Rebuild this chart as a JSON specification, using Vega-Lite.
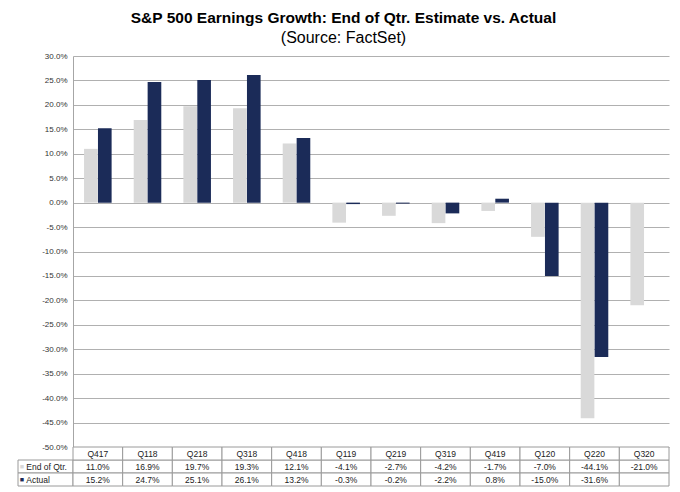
{
  "$schema": "https://vega.github.io/schema/vega-lite/v6.json",
  "padding": {"left": 17, "top": 10, "right": 12, "bottom": 4},
  "background": "white",
  "config": {
    "view": {"stroke": null},
    "font": "Liberation Sans",
    "locale": {"number": {"decimal": ".", "thousands": ",", "grouping": [3], "currency": ["$", ""], "minus": "-"}}
  },
  "title": {
    "text": "S&P 500 Earnings Growth: End of Qtr. Estimate vs. Actual",
    "subtitle": "(Source: FactSet)",
    "anchor": "middle",
    "font": "Liberation Sans",
    "fontSize": 15.5,
    "fontWeight": "bold",
    "color": "#000000",
    "subtitleFont": "Liberation Sans",
    "subtitleFontSize": 16,
    "subtitleColor": "#000000",
    "subtitlePadding": 4,
    "offset": 6
  },
  "datasets": {
    "growth": [
      {"q": "Q417", "series": "End of Qtr.", "value": 0.110},
      {"q": "Q417", "series": "Actual", "value": 0.152},
      {"q": "Q118", "series": "End of Qtr.", "value": 0.169},
      {"q": "Q118", "series": "Actual", "value": 0.247},
      {"q": "Q218", "series": "End of Qtr.", "value": 0.197},
      {"q": "Q218", "series": "Actual", "value": 0.251},
      {"q": "Q318", "series": "End of Qtr.", "value": 0.193},
      {"q": "Q318", "series": "Actual", "value": 0.261},
      {"q": "Q418", "series": "End of Qtr.", "value": 0.121},
      {"q": "Q418", "series": "Actual", "value": 0.132},
      {"q": "Q119", "series": "End of Qtr.", "value": -0.041},
      {"q": "Q119", "series": "Actual", "value": -0.003},
      {"q": "Q219", "series": "End of Qtr.", "value": -0.027},
      {"q": "Q219", "series": "Actual", "value": -0.002},
      {"q": "Q319", "series": "End of Qtr.", "value": -0.042},
      {"q": "Q319", "series": "Actual", "value": -0.022},
      {"q": "Q419", "series": "End of Qtr.", "value": -0.017},
      {"q": "Q419", "series": "Actual", "value": 0.008},
      {"q": "Q120", "series": "End of Qtr.", "value": -0.070},
      {"q": "Q120", "series": "Actual", "value": -0.150},
      {"q": "Q220", "series": "End of Qtr.", "value": -0.441},
      {"q": "Q220", "series": "Actual", "value": -0.316},
      {"q": "Q320", "series": "End of Qtr.", "value": -0.210},
      {"q": "Q320", "series": "Actual", "value": null}
    ]
  },
  "columns": 2,
  "spacing": 0,
  "bounds": "flush",
  "resolve": {"scale": {"x": "independent", "y": "independent", "color": "independent"}},
  "concat": [
    {
      "width": 55,
      "height": 391,
      "data": {"values": [{}]},
      "mark": {"type": "text", "text": ""}
    },
    {
      "width": 596,
      "height": 391,
      "data": {"name": "growth"},
      "transform": [{"filter": "isValid(datum.value)"}],
      "mark": {"type": "bar"},
      "encoding": {
        "x": {
          "field": "q", "type": "nominal",
          "sort": ["Q417","Q118","Q218","Q318","Q418","Q119","Q219","Q319","Q419","Q120","Q220","Q320"],
          "scale": {"paddingInner": 0.445, "paddingOuter": 0.2225},
          "axis": null
        },
        "xOffset": {
          "field": "series", "type": "nominal",
          "sort": ["End of Qtr.", "Actual"],
          "scale": {"paddingInner": 0.02}
        },
        "y": {
          "field": "value", "type": "quantitative",
          "scale": {"domain": [-0.5, 0.3], "nice": false},
          "axis": {
            "values": [-0.5,-0.45,-0.4,-0.35,-0.3,-0.25,-0.2,-0.15,-0.1,-0.05,0,0.05,0.1,0.15,0.2,0.25,0.3],
            "format": ".1%",
            "title": null,
            "ticks": false,
            "labelPadding": 6,
            "labelFontSize": 8,
            "labelColor": "#333333",
            "labelFont": "Liberation Sans",
            "domainColor": "#a6a6a6",
            "gridColor": "#b0b0b0",
            "gridWidth": 1
          }
        },
        "color": {
          "field": "series", "type": "nominal",
          "scale": {"domain": ["End of Qtr.", "Actual"], "range": ["#d9d9d9", "#1b2b58"]},
          "legend": null
        }
      }
    },
    {
      "width": 55,
      "height": 39,
      "data": {"name": "growth"},
      "transform": [{"filter": "datum.q == 'Q417'"}],
      "encoding": {
        "y": {
          "field": "series", "type": "nominal",
          "scale": {"domain": ["hdr", "End of Qtr.", "Actual"], "paddingInner": 0, "paddingOuter": 0},
          "axis": null
        }
      },
      "layer": [
        {
          "mark": {"type": "rect", "fill": "white", "stroke": "#9a9a9a", "strokeWidth": 1},
          "encoding": {
            "x": {"datum": 0, "type": "quantitative", "scale": {"domain": [0, 1]}, "axis": null},
            "x2": {"datum": 1}
          }
        },
        {
          "mark": {"type": "text", "text": "■", "fontSize": 7, "align": "left", "baseline": "middle"},
          "encoding": {
            "x": {"datum": 0.03, "type": "quantitative"},
            "color": {
              "field": "series", "type": "nominal",
              "scale": {"domain": ["End of Qtr.", "Actual"], "range": ["#d9d9d9", "#1b2b58"]},
              "legend": null
            }
          }
        },
        {
          "mark": {"type": "text", "fontSize": 8.5, "align": "left", "baseline": "middle", "color": "#222222", "font": "Liberation Sans"},
          "encoding": {
            "x": {"datum": 0.15, "type": "quantitative"},
            "text": {"field": "series"}
          }
        }
      ]
    },
    {
      "width": 596,
      "height": 39,
      "data": {"name": "growth"},
      "encoding": {
        "x": {
          "field": "q", "type": "nominal",
          "sort": ["Q417","Q118","Q218","Q318","Q418","Q119","Q219","Q319","Q419","Q120","Q220","Q320"],
          "scale": {"paddingInner": 0, "paddingOuter": 0},
          "axis": null
        }
      },
      "layer": [
        {
          "mark": {"type": "rect", "fill": "white", "stroke": "#9a9a9a", "strokeWidth": 1},
          "encoding": {
            "y": {
              "field": "series", "type": "nominal",
              "scale": {"domain": ["hdr", "End of Qtr.", "Actual"], "paddingInner": 0, "paddingOuter": 0},
              "axis": null
            }
          }
        },
        {
          "transform": [{"filter": "datum.series == 'End of Qtr.'"}],
          "mark": {"type": "rect", "fill": "white", "stroke": "#9a9a9a", "strokeWidth": 1},
          "encoding": {
            "y": {"datum": "hdr", "type": "nominal"}
          }
        },
        {
          "transform": [{"filter": "isValid(datum.value)"}],
          "mark": {"type": "text", "fontSize": 8.5, "baseline": "middle", "color": "#222222", "font": "Liberation Sans"},
          "encoding": {
            "y": {"field": "series", "type": "nominal"},
            "text": {"field": "value", "type": "quantitative", "format": ".1%"}
          }
        },
        {
          "transform": [{"filter": "datum.series == 'End of Qtr.'"}],
          "mark": {"type": "text", "fontSize": 8.5, "baseline": "middle", "color": "#222222", "font": "Liberation Sans"},
          "encoding": {
            "y": {"datum": "hdr", "type": "nominal"},
            "text": {"field": "q"}
          }
        }
      ]
    }
  ]
}
